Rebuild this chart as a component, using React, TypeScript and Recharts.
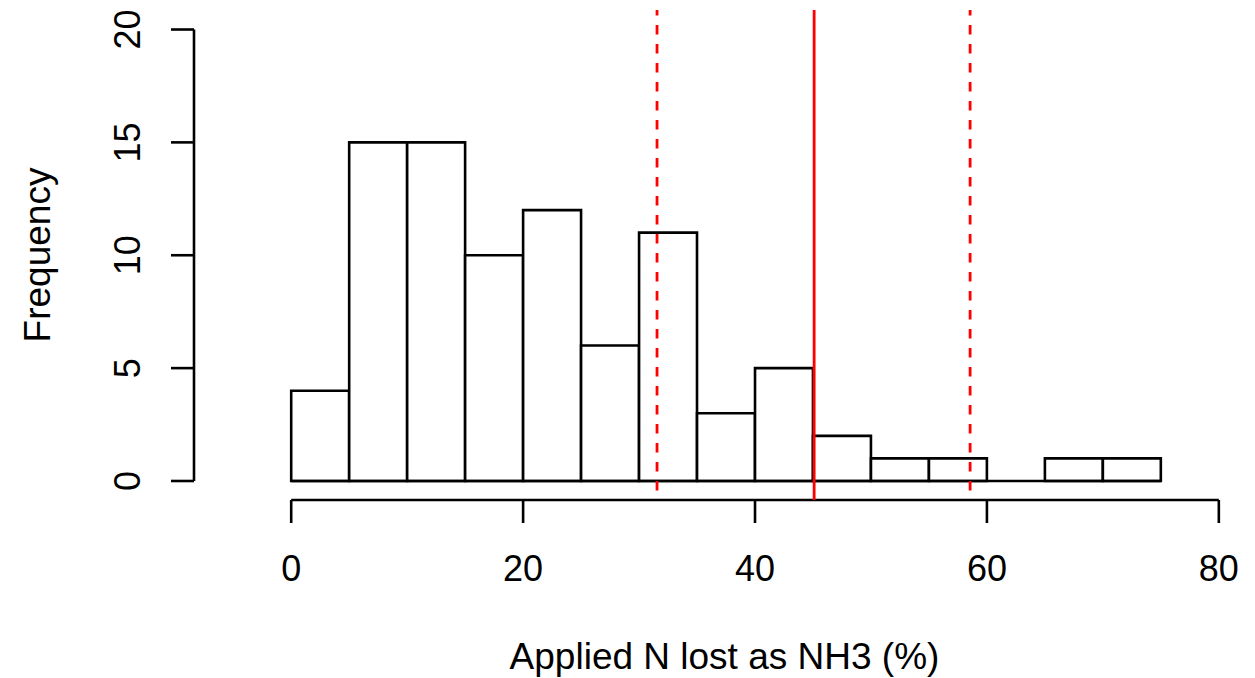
import React from "react";
import { ComposedChart, Bar, XAxis, YAxis, ReferenceLine } from "recharts";

// ---- data ----
const binStarts = [0, 5, 10, 15, 20, 25, 30, 35, 40, 45, 50, 55, 60, 65, 70];
const binEnds = [5, 10, 15, 20, 25, 30, 35, 40, 45, 50, 55, 60, 65, 70, 75];
const counts = [4, 15, 15, 10, 12, 6, 11, 3, 5, 2, 1, 1, 0, 1, 1];
const xTicks = [0, 20, 40, 60, 80];
const yTicks = [0, 5, 10, 15, 20];
const meanLine = [45.1];
const ciLines = [31.55, 58.55];

const xAxisTitle = "Applied N lost as NH3 (%)";
const yAxisTitle = "Frequency";

const data = binStarts.map((lo, i) => ({
  lo,
  hi: binEnds[i],
  mid: (lo + binEnds[i]) / 2,
  count: counts[i],
}));

// ---- layout / style ----
const W = 1255;
const H = 678;
const X_DOMAIN: [number, number] = [-8.383, 83.12];
const Y_DOMAIN: [number, number] = [-0.842, 20.864];
const FONT = "'Liberation Sans', Arial, Helvetica, sans-serif";
const FS = 36;
const FS_TITLE = 37;
const LW = 2.6;
const BAR_PX = 57.95;

const XTick = (p: any) => (
  <text
    x={p.x}
    y={p.y + 58}
    textAnchor="middle"
    fontFamily={FONT}
    fontSize={FS}
    fill="#000"
  >
    {p.payload.value}
  </text>
);

const YTick = (p: any) => {
  const bx = p.x - 31;
  return (
    <text
      x={bx}
      y={p.y}
      transform={`rotate(-90, ${bx}, ${p.y})`}
      textAnchor="middle"
      fontFamily={FONT}
      fontSize={FS}
      fill="#000"
    >
      {p.payload.value}
    </text>
  );
};

const XTitle = (props: any) => {
  const vb = props.viewBox || { x: 194, y: 500, width: 1061, height: 178 };
  return (
    <text
      x={vb.x + vb.width / 2}
      y={vb.y + 169}
      textAnchor="middle"
      fontFamily={FONT}
      fontSize={FS_TITLE}
      fill="#000"
    >
      {xAxisTitle}
    </text>
  );
};

const YTitle = (props: any) => {
  const vb = props.viewBox || { x: 0, y: 10, width: 194, height: 490 };
  const bx = vb.x + 50;
  const cy = vb.y + vb.height / 2;
  return (
    <text
      x={bx}
      y={cy}
      transform={`rotate(-90, ${bx}, ${cy})`}
      textAnchor="middle"
      fontFamily={FONT}
      fontSize={FS_TITLE}
      fill="#000"
    >
      {yAxisTitle}
    </text>
  );
};

export default function App() {
  return (
    <div style={{ position: "absolute", left: 0, top: 0, background: "#fff" }}>
      <ComposedChart
        width={W}
        height={H}
        data={data}
        margin={{ top: 10, right: 0, bottom: 0, left: 0 }}
        barCategoryGap={0}
        barGap={0}
      >
        <XAxis
          dataKey="mid"
          type="number"
          domain={X_DOMAIN}
          allowDataOverflow
          ticks={xTicks}
          interval={0}
          height={178}
          tickSize={23}
          tickMargin={0}
          axisLine={false}
          tickLine={{ stroke: "#000", strokeWidth: LW }}
          tick={<XTick />}
          label={<XTitle />}
        />
        <YAxis
          type="number"
          domain={Y_DOMAIN}
          allowDataOverflow
          ticks={yTicks}
          interval={0}
          width={194}
          tickSize={23}
          tickMargin={0}
          axisLine={false}
          tickLine={{ stroke: "#000", strokeWidth: LW }}
          tick={<YTick />}
          label={<YTitle />}
        />
        <Bar
          dataKey="count"
          fill="#fff"
          stroke="#000"
          strokeWidth={LW}
          barSize={BAR_PX}
          isAnimationActive={false}
        />
        {/* histogram baseline (covers empty bins) */}
        <ReferenceLine
          segment={[
            { x: binStarts[0], y: 0 },
            { x: binEnds[binEnds.length - 1], y: 0 },
          ]}
          stroke="#000"
          strokeWidth={LW}
          ifOverflow="visible"
        />
        {/* axis lines (R style, spanning tick range only) */}
        <ReferenceLine
          segment={[
            { x: xTicks[0], y: Y_DOMAIN[0] },
            { x: xTicks[xTicks.length - 1], y: Y_DOMAIN[0] },
          ]}
          stroke="#000"
          strokeWidth={LW}
          ifOverflow="visible"
        />
        <ReferenceLine
          segment={[
            { x: X_DOMAIN[0], y: yTicks[0] },
            { x: X_DOMAIN[0], y: yTicks[yTicks.length - 1] },
          ]}
          stroke="#000"
          strokeWidth={LW}
          ifOverflow="visible"
        />
        {ciLines.map((v) => (
          <ReferenceLine
            key={"ci" + v}
            x={v}
            stroke="#ff0000"
            strokeWidth={2.8}
            strokeDasharray="9.5 9.5"
            strokeDashoffset={9.5}
            ifOverflow="visible"
          />
        ))}
        {meanLine.map((v) => (
          <ReferenceLine
            key={"m" + v}
            x={v}
            stroke="#ff0000"
            strokeWidth={2.8}
            ifOverflow="visible"
          />
        ))}
      </ComposedChart>
    </div>
  );
}
